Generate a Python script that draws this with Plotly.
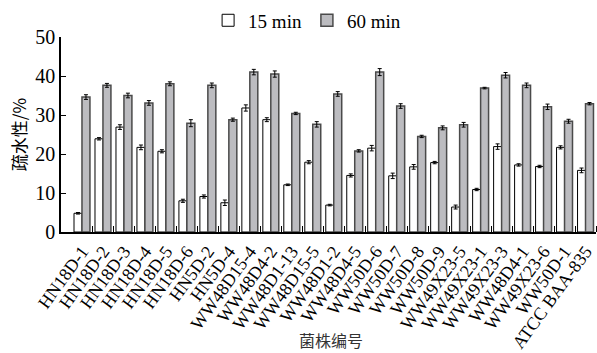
import plotly.graph_objects as go

strains = ["HN18D-1", "HN18D-2", "HN18D-3", "HN18D-4", "HN18D-5", "HN18D-6",
           "HN5D-2", "HN5D-4", "WW48D15-4", "WW48D4-2", "WW48D1-13", "WW48D15-5",
           "WW48D1-2", "WW48D4-5", "WW50D-6", "WW50D-7", "WW50D-8", "WW50D-9",
           "WW49X23-5", "WW49X23-1", "WW49X23-3", "WW48D4-1", "WW49X23-6",
           "WW50D-1", "ATCC BAA-835"]
min15 = [4.8, 23.9, 26.9, 21.7, 20.7, 8.0, 9.1, 7.5, 31.8, 28.8, 12.1, 17.9,
         6.9, 14.5, 21.5, 14.4, 16.7, 17.8, 6.4, 10.9, 21.9, 17.2, 16.8, 21.7, 15.8]
min60 = [34.6, 37.6, 35.0, 33.1, 38.0, 27.9, 37.6, 28.8, 41.0, 40.5, 30.4, 27.6,
         35.4, 20.8, 41.0, 32.3, 24.5, 26.7, 27.5, 36.9, 40.2, 37.6, 32.1, 28.4, 32.9]
err15 = [0.2, 0.3, 0.6, 0.6, 0.4, 0.4, 0.4, 0.7, 0.8, 0.5, 0.2, 0.4, 0.2, 0.4,
         0.7, 0.7, 0.6, 0.3, 0.5, 0.3, 0.7, 0.3, 0.3, 0.4, 0.6]
err60 = [0.6, 0.5, 0.6, 0.6, 0.5, 0.9, 0.6, 0.4, 0.7, 0.8, 0.3, 0.7, 0.6, 0.3,
         0.9, 0.6, 0.3, 0.5, 0.6, 0.2, 0.7, 0.6, 0.7, 0.5, 0.3]
y_ticks = [0, 10, 20, 30, 40, 50]

idx = list(range(len(strains)))
serif = "Liberation Serif, Times New Roman, serif"

fig = go.Figure()
fig.add_trace(go.Bar(
    x=idx, y=min15, name="15 min",
    marker=dict(color="white", line=dict(color="black", width=1)),
    error_y=dict(type="data", array=err15, color="black", thickness=1, width=2),
))
fig.add_trace(go.Bar(
    x=idx, y=min60, name="60 min",
    marker=dict(color="#bcbcc0", line=dict(color="#4a4a4a", width=1.5)),
    error_y=dict(type="data", array=err60, color="black", thickness=1, width=2),
))

fig.update_layout(
    width=597, height=353,
    margin=dict(l=61, r=1, t=37, b=121),
    paper_bgcolor="white", plot_bgcolor="white",
    barmode="group", bargap=0.24, bargroupgap=0,
    font=dict(family=serif, size=18, color="black"),
    showlegend=True,
    legend=dict(orientation="h", x=0.46, xanchor="center", y=1.085, yanchor="middle",
                font=dict(family=serif, size=19), itemwidth=30,
                tracegroupgap=0, bgcolor="rgba(0,0,0,0)"),
    xaxis=dict(
        range=[-1, 24.5], tickmode="array", tickvals=idx, ticktext=strains,
        tickangle=-54, ticks="", showline=True, linecolor="black", linewidth=1.5,
        showgrid=False, zeroline=False, tickfont=dict(family=serif, size=18),
        minor=dict(tickmode="array", tickvals=[i + 0.5 for i in idx],
                   ticks="inside", ticklen=6, tickwidth=1.2, tickcolor="black",
                   showgrid=False),
    ),
    yaxis=dict(
        range=[0, 50], tickmode="array", tickvals=y_ticks, ticks="inside",
        ticklen=5, tickwidth=1.2, tickcolor="black", showline=True,
        linecolor="black", linewidth=1.5, showgrid=False, zeroline=False,
        tickfont=dict(family=serif, size=20),
        title=dict(text="疏水性/%", font=dict(family="Noto Sans CJK SC", size=17),
                   standoff=4),
    ),
    annotations=[dict(
        text="菌株编号", xref="paper", yref="paper", x=0.505, y=-0.555,
        xanchor="center", yanchor="middle", showarrow=False,
        font=dict(family="Noto Sans CJK SC", size=16, color="#333"),
    )],
)

fig.write_html("out.html")
